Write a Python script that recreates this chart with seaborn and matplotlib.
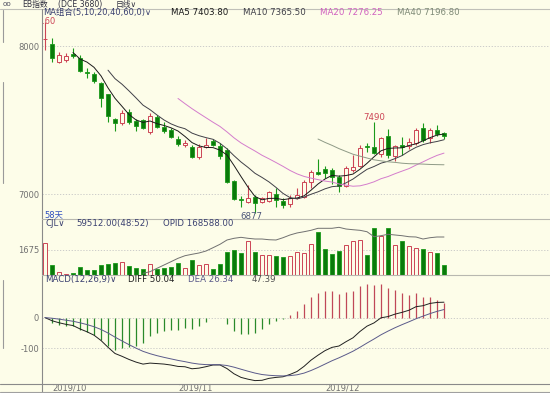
import matplotlib
matplotlib.use("Agg")
import matplotlib.pyplot as plt
from matplotlib.lines import Line2D
import numpy as np
import pandas as pd
import seaborn as sns

# ------------------------------------------------------------------
# DATA (EB index daily, 58 sessions)
# ------------------------------------------------------------------
opens = [8045, 8011, 7894, 7904, 7945, 7921, 7826, 7813, 7753, 7674,
         7508, 7479, 7557, 7494, 7501, 7422, 7519, 7456, 7434, 7373,
         7333, 7321, 7254, 7317, 7359, 7326, 7299, 7092, 6966, 6951,
         6984, 6951, 6955, 7000, 6955, 6933, 6973, 6984, 7085, 7153,
         7168, 7164, 7115, 7056, 7164, 7191, 7326, 7321, 7270, 7393,
         7258, 7332, 7326, 7344, 7445, 7378, 7434, 7416]
highs = [8160, 8052, 7962, 7953, 7985, 7939, 7850, 7827, 7759, 7678,
         7513, 7568, 7573, 7506, 7506, 7546, 7535, 7490, 7445, 7393,
         7366, 7332, 7340, 7378, 7371, 7344, 7310, 7096, 6986, 7063,
         6995, 6984, 7022, 7040, 6977, 6995, 7045, 7096, 7164, 7236,
         7191, 7175, 7130, 7191, 7265, 7333, 7344, 7490, 7389, 7438,
         7332, 7389, 7378, 7445, 7479, 7445, 7468, 7422]
lows = [7973, 7890, 7883, 7894, 7917, 7823, 7786, 7748, 7591, 7490,
        7427, 7467, 7474, 7429, 7438, 7407, 7445, 7416, 7378, 7326,
        7322, 7243, 7240, 7310, 7326, 7236, 7074, 6962, 6912, 6944,
        6877, 6939, 6950, 6916, 6906, 6916, 6968, 6973, 7040, 7130,
        7108, 7070, 7018, 7051, 7153, 7186, 7287, 7270, 7254, 7243,
        7227, 7265, 7303, 7332, 7355, 7344, 7393, 7371]
closes = [8050, 7922, 7939, 7935, 7935, 7831, 7817, 7764, 7647, 7530,
          7479, 7546, 7490, 7463, 7445, 7528, 7456, 7429, 7384, 7337,
          7344, 7250, 7317, 7332, 7332, 7258, 7085, 6966, 6959, 6973,
          6944, 6973, 7013, 6962, 6928, 6977, 6995, 7085, 7153, 7137,
          7146, 7119, 7056, 7175, 7186, 7310, 7317, 7276, 7378, 7265,
          7326, 7321, 7355, 7434, 7366, 7434, 7407, 7393]
volumes = [198400, 59500, 17300, 6400, 12800, 49300, 32000, 33900, 64000, 70400,
           76800, 81300, 53100, 42900, 38400, 70400, 38400, 44800, 49300, 74900,
           44800, 91500, 59500, 70400, 38400, 65900, 140800, 155500, 138900, 213100,
           145300, 123500, 123500, 119700, 110700, 119700, 140800, 134400, 192000, 268800,
           160000, 132500, 149100, 187500, 213100, 217600, 123500, 294400, 241300, 294400,
           183700, 209300, 177300, 166400, 160000, 140800, 134400, 59512]
open_interest = [None] * 14 + [
    101800, 104800, 111000, 117100, 123200, 129400,
    134200, 136800, 139200, 142800, 148900, 155200, 163100, 166200, 168000, 166200,
    164900, 164900, 163600, 163100, 167300, 172300, 176000, 178300, 180900, 184600,
    184600, 184600, 186400, 183300, 182000, 180900, 178300, 169100, 171000, 173600,
    172300, 171000, 169100, 168600, 164900, 167300, 168600, 168588]
month_labels = ["2019/10", "2019/11", "2019/12"]
month_start = [1, 19, 40]
price_ticks = [7000, 8000]
price_tick_labels = ["7000", "8000"]
vol_ticks = [155500]
vol_tick_labels = ["1675"]
macd_ticks = [0, -100]
macd_tick_labels = ["0", "-100"]

# ------------------------------------------------------------------
# INDICATORS (the chart's own MA / MACD definitions on the closes)
# ------------------------------------------------------------------
df = pd.DataFrame({"open": opens, "high": highs, "low": lows,
                   "close": closes, "volume": volumes,
                   "opid": pd.to_numeric(pd.Series(open_interest), errors="coerce")})
df["idx"] = np.arange(len(df))
for n in (5, 10, 20, 40):
    df[f"ma{n}"] = df["close"].rolling(n).mean()
ema12 = df["close"].ewm(span=12, adjust=False).mean()
ema26 = df["close"].ewm(span=26, adjust=False).mean()
df["diff"] = ema12 - ema26
df["dea"] = df["diff"].ewm(span=9, adjust=False).mean()
df["macd"] = 2 * (df["diff"] - df["dea"])
up = (df["close"] >= df["open"]).values

# ------------------------------------------------------------------
# STYLE
# ------------------------------------------------------------------
BG = "#fdfde9"
RED = "#cc4455"
GREEN = "#0a7a0a"
GREEN_EDGE = "#1a9a1a"
NAVY = "#3a4070"
GREY_TXT = "#707070"
W, H = 550, 393

sns.set_theme(style="white")
FAM = ["DejaVu Sans", "Noto Sans CJK SC"]
plt.rcParams["font.family"] = FAM

fig = plt.figure(figsize=(5.5, 3.93), dpi=100, facecolor=BG)


def panel(top, bottom):
    ax = fig.add_axes([42 / W, 1 - bottom / H, (W - 42) / W, (bottom - top) / H])
    ax.set_facecolor(BG)
    for s in ax.spines.values():
        s.set_visible(False)
    ax.set_xlim(-3 / 7, 505 / 7)
    ax.set_xticks([])
    ax.tick_params(axis="y", length=0, pad=2, labelsize=6, labelcolor=GREY_TXT)
    return ax


def ftext(x, y, s, **kw):
    kw.setdefault("fontsize", 6.2)
    fig.text(x / W, 1 - y / H, s, va="center", ha="left", family=FAM, **kw)


def fline(xs, ys, color, lw=0.8):
    fig.add_artist(Line2D([x / W for x in xs], [1 - y / H for y in ys],
                          color=color, lw=lw, transform=fig.transFigure))


dotted = dict(color="#c4c4c4", lw=0.6, ls=(0, (1.5, 2)), zorder=0)

# ------------------------------------------------------------------
# PRICE PANEL
# ------------------------------------------------------------------
ax = panel(9, 219)
ax.set_ylim(6833.5, 8249.5)
for t in price_ticks:
    ax.axhline(t, **dotted)
ax.set_yticks(price_ticks, price_tick_labels)

x = df["idx"].values
o, h, l, c = (df[k].values for k in ("open", "high", "low", "close"))
body_lo = np.minimum(o, c)
body_h = np.maximum(np.abs(c - o), 5)
ax.vlines(x[up], l[up], h[up], color=RED, lw=0.8, zorder=2)
ax.vlines(x[~up], l[~up], h[~up], color=GREEN_EDGE, lw=0.8, zorder=2)
ax.bar(x[up], body_h[up], bottom=body_lo[up], width=0.68,
       facecolor=BG, edgecolor=RED, lw=0.7, zorder=3)
ax.bar(x[~up], body_h[~up], bottom=body_lo[~up], width=0.68,
       facecolor=GREEN, edgecolor=GREEN_EDGE, lw=0.6, zorder=3)

ma_colors = {"ma5": "#1a1a1a", "ma10": "#404048", "ma20": "#d47ccc", "ma40": "#8e9a86"}
for col, colr in ma_colors.items():
    sns.lineplot(data=df, x="idx", y=col, ax=ax, color=colr, lw=0.7,
                 estimator=None, legend=False, zorder=4)
ax.set_xlabel("")
ax.set_ylabel("")
ax.set_xlim(-3 / 7, 505 / 7)

# high / low markers (the first one is cut by the left edge, as in the source)
hi_i = int(df["high"].iloc[:40].idxmax())
ax.text(hi_i + 1.45, h[hi_i] + 6, f"{h[hi_i]:.0f}", ha="right", va="center",
        color=RED, fontsize=6, clip_on=True)
hi2 = int(df["high"].iloc[40:].idxmax())
ax.text(hi2, h[hi2] + 25, f"{h[hi2]:.0f}", ha="center", va="center",
        color=RED, fontsize=6.2)
lo_i = int(df["low"].idxmin())
ax.text(lo_i - 0.5, l[lo_i] - 24, f"{l[lo_i]:.0f}", ha="center", va="center",
        color="#4a5478", fontsize=6.2)

# ------------------------------------------------------------------
# VOLUME PANEL
# ------------------------------------------------------------------
axv = panel(219, 275)
axv.set_ylim(0, 347500)
for t in vol_ticks:
    axv.axhline(t, **dotted)
axv.set_yticks(vol_ticks, vol_tick_labels)
v = df["volume"].values
axv.bar(x[up], v[up], width=0.68, facecolor=BG, edgecolor=RED, lw=0.7, zorder=3)
axv.bar(x[~up], v[~up], width=0.68, facecolor=GREEN, edgecolor=GREEN_EDGE, lw=0.6, zorder=3)

axo = axv.twinx()
axo.set_ylim(98713, 201700)
sns.lineplot(data=df, x="idx", y="opid", ax=axo, color="#707070", lw=0.7,
             estimator=None, legend=False, zorder=4)
axo.set_xlim(-3 / 7, 505 / 7)
axo.set_yticks([])
axo.set_xlabel("")
axo.set_ylabel("")
for s in axo.spines.values():
    s.set_visible(False)

# ------------------------------------------------------------------
# MACD PANEL
# ------------------------------------------------------------------
axm = panel(275, 383)
axm.set_ylim(-212.9, 138.7)
for t in macd_ticks:
    axm.axhline(t, **dotted)
axm.set_yticks(macd_ticks, macd_tick_labels)
mb = df["macd"].values
axm.vlines(x, 0, mb, colors=np.where(mb >= 0, "#c04858", "#2a8a2a"), lw=0.9, zorder=2)
sns.lineplot(data=df, x="idx", y="diff", ax=axm, color="#202020", lw=0.7,
             estimator=None, legend=False, zorder=3)
sns.lineplot(data=df, x="idx", y="dea", ax=axm, color="#5a5a8a", lw=0.7,
             estimator=None, legend=False, zorder=3)
axm.set_xlabel("")
axm.set_ylabel("")
axm.set_xlim(-3 / 7, 505 / 7)

# month labels along the bottom strip
for i, lab in zip(month_start, month_labels):
    axm.text(i, -0.045, lab, transform=axm.get_xaxis_transform(),
             ha="left", va="center", fontsize=6, color=GREY_TXT, clip_on=False)

# ------------------------------------------------------------------
# FRAME LINES AND HEADER TEXT
# ------------------------------------------------------------------
fline([0, W], [9, 9], "#c0c0b8")
fline([42, 42], [9, 392], "#8a8a8a")
fline([42, W], [219, 219], "#b8b8b0")
fline([42, W], [275, 275], "#b8b8b0")
fline([0, W], [383.5, 383.5], "#8a8a8a")
fline([0, W], [392, 392], "#a0a0a0")
fline([3, 3], [10, 42], "#9a9a9a")
fline([3, 3], [82, 183], "#9a9a9a")
fline([3, 3], [280, 348], "#9a9a9a")

ftext(3, 4.0, "oo", color="#505060", fontsize=5.2)
ftext(22, 4.0, "EB指数", color="#303040", fontsize=5.6)
ftext(58, 4.0, "(DCE 3680)", color="#303040", fontsize=5.6)
ftext(116, 4.0, "日线∨", color="#303040", fontsize=5.6)

ftext(43, 12.8, "MA组合(5,10,20,40,60,0)∨", color=NAVY, fontsize=6)
ftext(171, 12.8, "MA5 7403.80", color="#1a1a1a")
ftext(243, 12.8, "MA10 7365.50", color="#404048")
ftext(320, 12.8, "MA20 7276.25", color="#d060c0")
ftext(397, 12.8, "MA40 7196.80", color="#7e8a76")
ftext(44, 215, "58天", color="#3050c0", fontsize=6)

ftext(45, 223.5, "CJL∨", color=NAVY)
ftext(76, 223.5, "59512.00(48:52)", color=NAVY)
ftext(163, 223.5, "OPID 168588.00", color=NAVY)

ftext(45, 279.5, "MACD(12,26,9)∨", color=NAVY)
ftext(128, 279.5, "DIFF 50.04", color="#202020")
ftext(188, 279.5, "DEA 26.34", color="#5a5a8a")
ftext(252, 279.5, "47.39", color="#505050")

fig.savefig("out.png", dpi=100, facecolor=BG)
